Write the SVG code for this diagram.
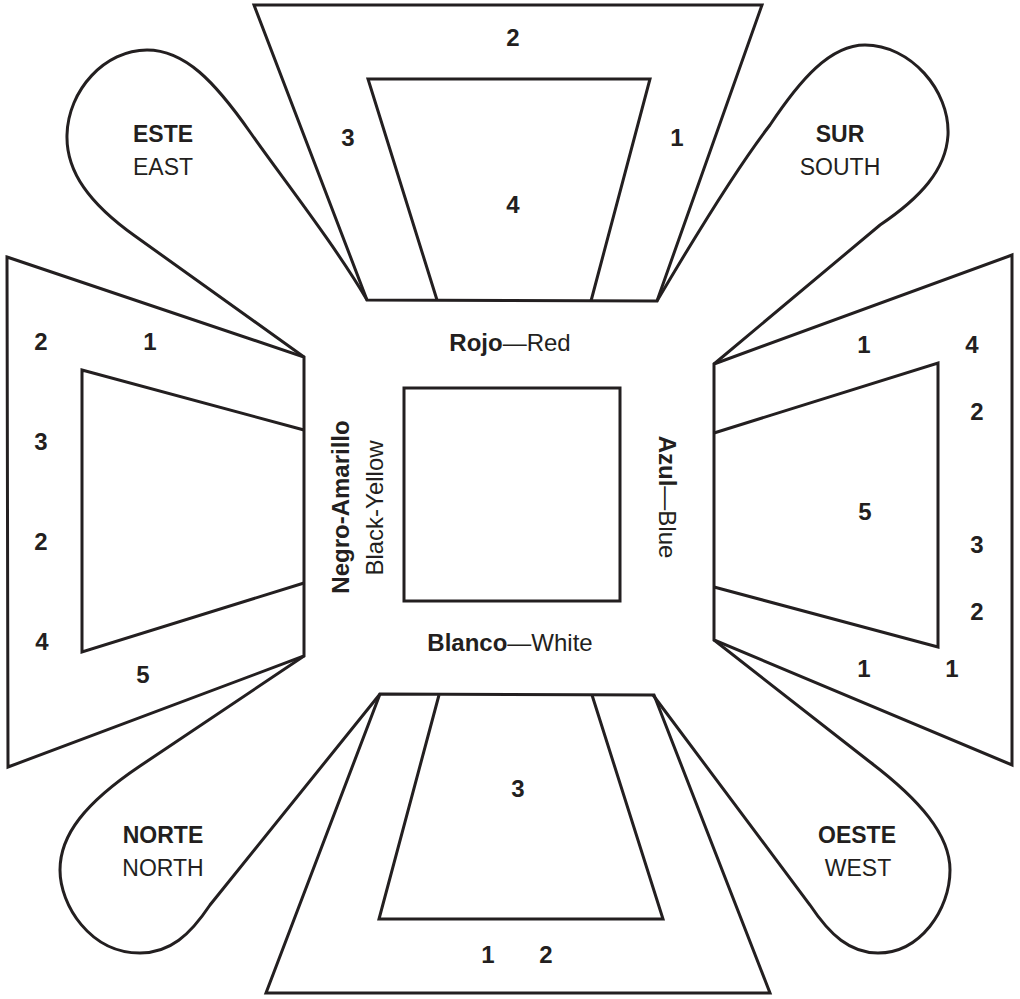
<svg xmlns="http://www.w3.org/2000/svg" width="1020" height="999" viewBox="0 0 1020 999">
<style>
.s{fill:none;stroke:#231f20;stroke-width:3;stroke-linejoin:miter}
.n{font-family:"Liberation Sans",Arial,sans-serif;font-weight:bold;font-size:24px;fill:#231f20;text-anchor:middle}
.b{font-family:"Liberation Sans",Arial,sans-serif;font-weight:bold;font-size:23px;fill:#231f20;text-anchor:middle}
.r{font-family:"Liberation Sans",Arial,sans-serif;font-weight:normal;font-size:23px;fill:#231f20;text-anchor:middle}
.c{font-family:"Liberation Sans",Arial,sans-serif;font-size:24px;fill:#231f20;text-anchor:middle}
</style>
<rect width="1020" height="999" fill="#ffffff"/>
<g id="connectors">
</g>
<g id="top-trapezoid">
<polygon class="s" points="254,5 762,5 657,301 367,300"/>
<polyline class="s" points="437,300 368,79 650,79 591,301"/>
<text class="n" x="513" y="46">2</text>
<text class="n" x="348" y="146">3</text>
<text class="n" x="677" y="146">1</text>
<text class="n" x="513" y="213">4</text>
</g>
<g id="left-trapezoid">
<polygon class="s" points="7,257 304,357 304,656 8,767"/>
<polyline class="s" points="304,430 82,370 82,652 304,583"/>
<text class="n" x="41" y="350">2</text>
<text class="n" x="150" y="350">1</text>
<text class="n" x="41" y="450">3</text>
<text class="n" x="41" y="550">2</text>
<text class="n" x="42" y="650">4</text>
<text class="n" x="143" y="683">5</text>
</g>
<g id="right-trapezoid">
<polygon class="s" points="714,364 1012,255 1012,765 714,640"/>
<polyline class="s" points="714,433 938,363 938,647 714,587"/>
<text class="n" x="864" y="353">1</text>
<text class="n" x="972" y="353">4</text>
<text class="n" x="977" y="420">2</text>
<text class="n" x="865" y="520">5</text>
<text class="n" x="977" y="553">3</text>
<text class="n" x="977" y="620">2</text>
<text class="n" x="864" y="677">1</text>
<text class="n" x="952" y="677">1</text>
</g>
<g id="bottom-trapezoid">
<polygon class="s" points="380,694 654,695 770,993 266,993"/>
<polyline class="s" points="439,695 379,919 663,919 592,695"/>
<text class="n" x="518" y="797">3</text>
<text class="n" x="488" y="963">1</text>
<text class="n" x="546" y="963">2</text>
</g>
<g id="center-square">
<rect class="s" x="404" y="388" width="216" height="213"/>
<text class="c" x="510" y="351"><tspan font-weight="bold">Rojo</tspan>—Red</text>
<text class="c" x="510" y="651"><tspan font-weight="bold">Blanco</tspan>—White</text>
<text class="c" transform="translate(349,507) rotate(-90)" font-weight="bold">Negro-Amarillo</text>
<text class="c" transform="translate(383,508) rotate(-90)">Black-Yellow</text>
<text class="c" transform="translate(659,497) rotate(90)"><tspan font-weight="bold">Azul</tspan>—Blue</text>
</g>
<g id="petal-este">
<path class="s" d="M304,357 L135,236 C90,204 66,172 67,135 C68,90 105,50 147,50 C185,50 215,82 250,132 C280,175 335,245 367,300"/>
<text class="b" x="163" y="142">ESTE</text>
<text class="r" x="163" y="175">EAST</text>
</g>
<g id="petal-sur">
<path class="s" d="M657,301 C690,245 735,170 770,125 C800,80 830,45 865,45 C910,45 950,90 948,135 C946,170 920,198 880,225 L714,364"/>
<text class="b" x="840" y="142">SUR</text>
<text class="r" x="840" y="175">SOUTH</text>
</g>
<g id="petal-norte">
<path class="s" d="M304,656 L140,766 C85,803 60,835 60,870 C60,905 90,953 140,953 C170,953 190,935 210,905 L380,694"/>
<text class="b" x="163" y="843">NORTE</text>
<text class="r" x="163" y="876">NORTH</text>
</g>
<g id="petal-oeste">
<path class="s" d="M714,640 L870,762 C920,800 950,835 950,870 C950,910 920,953 878,953 C850,953 830,935 810,905 L653,695"/>
<text class="b" x="857" y="843">OESTE</text>
<text class="r" x="858" y="876">WEST</text>
</g>
</svg>
